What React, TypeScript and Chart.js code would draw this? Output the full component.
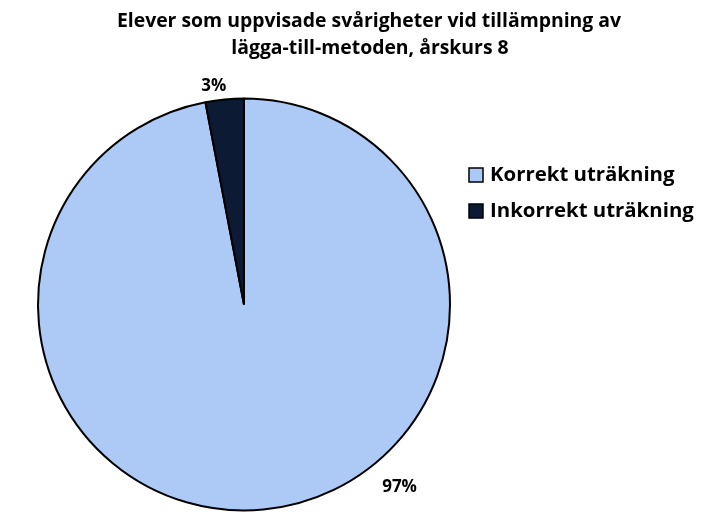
import React, { useEffect, useRef } from "react";
import { Chart, registerables } from "chart.js";

Chart.register(...registerables);

const categories = ["Korrekt uträkning", "Inkorrekt uträkning"];
const values = [97, 3];
const valueLabels = ["97%", "3%"];
const colors = ["#adc9f5", "#0d1a33"];
const titleLines = [
  "Elever som uppvisade svårigheter vid tillämpning av",
  "lägga-till-metoden, årskurs 8",
];

const FONT = "'Open Sans', 'Liberation Sans', sans-serif";

const decorPlugin = {
  id: "decor",
  afterDraw(chart: any) {
    const ctx = chart.ctx as CanvasRenderingContext2D;
    ctx.save();
    // title
    ctx.fillStyle = "#000";
    ctx.font = `bold 19.4px ${FONT}`;
    ctx.textAlign = "center";
    ctx.textBaseline = "middle";
    ctx.fillText(titleLines[0], 369, 21);
    ctx.fillText(titleLines[1], 370, 48);

    // data labels
    const meta = chart.getDatasetMeta(0);
    ctx.font = `bold 17px ${FONT}`;
    meta.data.forEach((arc: any, i: number) => {
      const { x, y, outerRadius, startAngle, endAngle } = arc.getProps(
        ["x", "y", "outerRadius", "startAngle", "endAngle"],
        true
      );
      let ang = (startAngle + endAngle) / 2 - (2.5 * Math.PI) / 180;
      let dist = outerRadius + 14;
      if (i === 0) {
        ang = -Math.PI / 2 + (139.6 * Math.PI) / 180;
        dist = outerRadius + 34;
      }
      ctx.fillText(valueLabels[i], x + Math.cos(ang) * dist, y + Math.sin(ang) * dist);
    });

    // legend
    ctx.font = `bold 20.4px ${FONT}`;
    ctx.textAlign = "left";
    const lx = 469;
    const rows = [175, 211];
    categories.forEach((c, i) => {
      ctx.fillStyle = colors[i];
      ctx.fillRect(lx, rows[i] - 7, 14, 14);
      ctx.strokeStyle = "#000";
      ctx.lineWidth = 1.5;
      ctx.strokeRect(lx, rows[i] - 7, 14, 14);
      ctx.fillStyle = "#000";
      ctx.fillText(c, lx + 21, rows[i]);
    });
    ctx.restore();
  },
};

export default function App() {
  const ref = useRef<HTMLCanvasElement>(null);
  useEffect(() => {
    document.body.style.margin = "0";
    const chart = new Chart(ref.current!, {
      type: "pie",
      data: {
        labels: categories,
        datasets: [
          {
            data: values,
            backgroundColor: colors,
            borderColor: "#000",
            borderWidth: 2,
          },
        ],
      },
      options: {
        responsive: false,
        animation: false,
        layout: { padding: { top: 97, left: 37, right: 256, bottom: 11 } },
        plugins: {
          legend: { display: false },
          title: { display: false },
          tooltip: { enabled: false },
        },
      },
      plugins: [decorPlugin],
    });
    return () => chart.destroy();
  }, []);
  return (
    <div style={{ width: 707, height: 523, background: "#fff" }}>
      <canvas ref={ref} width={707} height={523} style={{ display: "block" }} />
    </div>
  );
}
